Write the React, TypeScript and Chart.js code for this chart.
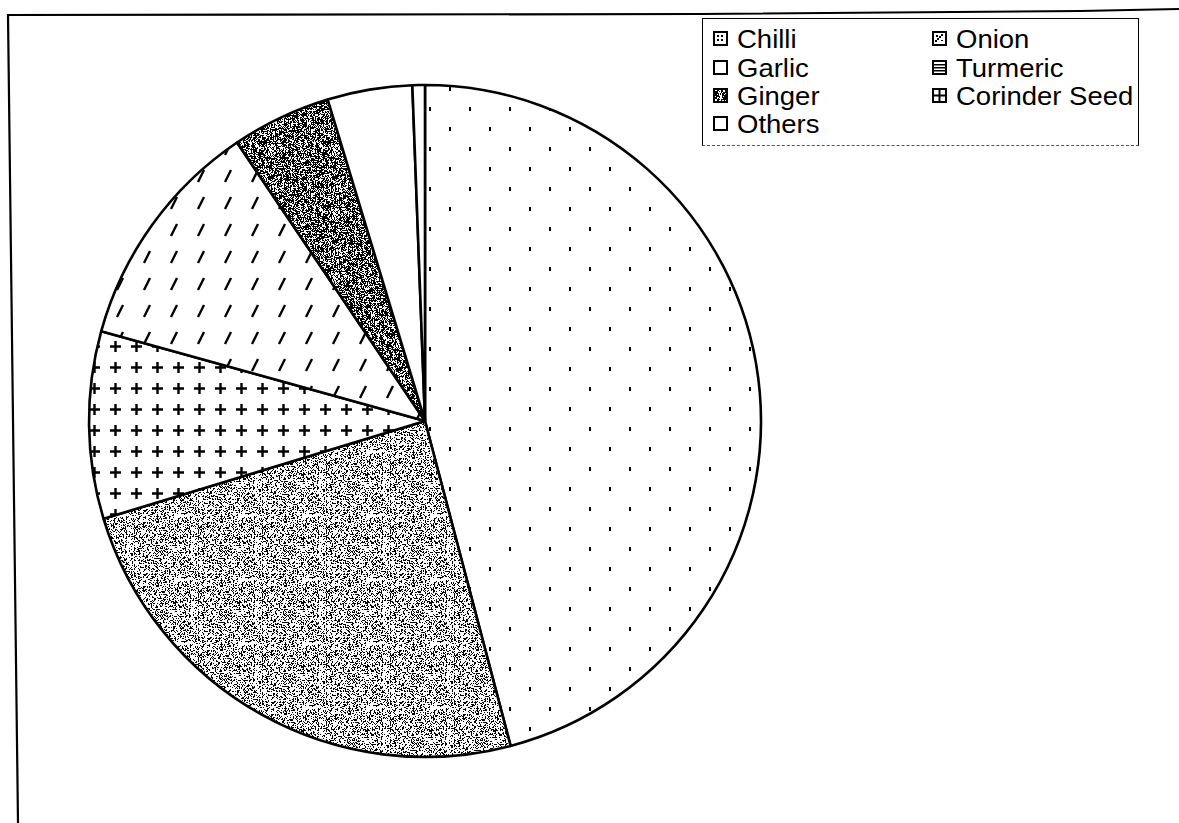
import React, { useEffect, useRef } from 'react';
import { Chart, registerables } from 'chart.js';

Chart.register(...registerables);

// Slices in drawing order (clockwise from 12 o'clock), percent shares
const categories = ['Chilli', 'Onion', 'Corinder Seed', 'Turmeric', 'Ginger', 'Garlic', 'Others'];
const shares = [45.9, 24.4, 9.0, 11.25, 4.77, 4.08, 0.6];
const slicePatterns = ['dots', 'stipple', 'plus', 'slash', 'dark', 'white', 'white'];

// Legend (two columns, row by row)
const legendLabels = ['Chilli', 'Onion', 'Garlic', 'Turmeric', 'Ginger', 'Corinder Seed', 'Others'];
const legendIcons = ['iDots', 'iDiag', 'white', 'iLines', 'iDark', 'iGrid', 'white'];

function hash(x: number, y: number, s: number): number {
  let h = (x * 374761393 + y * 668265263 + s * 1442695041) | 0;
  h = Math.imul(h ^ (h >>> 13), 1274126177);
  h = h ^ (h >>> 16);
  return (h >>> 0) / 4294967296;
}

function makeTile(kind: string): HTMLCanvasElement {
  const c = document.createElement('canvas');
  const ctx = c.getContext('2d')!;
  if (kind === 'dots') {
    c.width = 40; c.height = 40;
    ctx.fillStyle = '#fff'; ctx.fillRect(0, 0, 40, 40);
    ctx.fillStyle = '#000';
    ctx.fillRect(9, 7, 2, 4);
    ctx.fillRect(29, 27, 2, 4);
  } else if (kind === 'stipple' || kind === 'dark') {
    const n = 64;
    c.width = n; c.height = n;
    const img = ctx.createImageData(n, n);
    const dens = kind === 'stipple' ? 0.32 : 0.6;
    for (let y = 0; y < n; y++) {
      for (let x = 0; x < n; x++) {
        const streak = hash(x, 0, 7) * 0.24 - 0.12;
        const v = hash(x, y, kind === 'stipple' ? 3 : 5) < dens + streak ? 0 : 255;
        const i = (y * n + x) * 4;
        img.data[i] = v; img.data[i + 1] = v; img.data[i + 2] = v; img.data[i + 3] = 255;
      }
    }
    ctx.putImageData(img, 0, 0);
  } else if (kind === 'plus') {
    c.width = 21; c.height = 21;
    ctx.fillStyle = '#fff'; ctx.fillRect(0, 0, 21, 21);
    ctx.strokeStyle = '#000'; ctx.lineWidth = 2.4;
    ctx.beginPath();
    ctx.moveTo(5, 10.5); ctx.lineTo(16, 10.5);
    ctx.moveTo(10.5, 5); ctx.lineTo(10.5, 16);
    ctx.stroke();
  } else if (kind === 'slash') {
    c.width = 27; c.height = 27;
    ctx.fillStyle = '#fff'; ctx.fillRect(0, 0, 27, 27);
    ctx.strokeStyle = '#000'; ctx.lineWidth = 2.4;
    ctx.beginPath();
    ctx.moveTo(9, 20); ctx.lineTo(15, 8);
    ctx.stroke();
  } else {
    c.width = 4; c.height = 4;
    ctx.fillStyle = '#fff'; ctx.fillRect(0, 0, 4, 4);
  }
  return c;
}

function drawIcon(c: HTMLCanvasElement, kind: string) {
  const ctx = c.getContext('2d')!;
  const s = c.width;
  ctx.fillStyle = '#fff';
  ctx.fillRect(0, 0, s, s);
  ctx.fillStyle = '#000';
  if (kind === 'iDots') {
    ctx.fillRect(4, 4, 2, 2); ctx.fillRect(8, 4, 2, 2);
    ctx.fillRect(4, 8, 2, 2); ctx.fillRect(8, 8, 2, 2);
  } else if (kind === 'iDiag') {
    for (let i = 0; i < 4; i++) ctx.fillRect(3 + i * 2, 9 - i * 2, 2, 2);
    ctx.fillRect(4, 4, 2, 2); ctx.fillRect(9, 9, 2, 1);
  } else if (kind === 'iLines') {
    ctx.fillRect(2, 4, s - 4, 1.5); ctx.fillRect(2, 7, s - 4, 1.5); ctx.fillRect(2, 10, s - 4, 1.5);
  } else if (kind === 'iDark') {
    for (let y = 2; y < s - 2; y++) for (let x = 2; x < s - 2; x++) {
      if (hash(x, y, 11) < 0.6) ctx.fillRect(x, y, 1, 1);
    }
  } else if (kind === 'iGrid') {
    ctx.fillRect(s / 2 - 1, 2, 2, s - 4);
    ctx.fillRect(2, s / 2 - 1, s - 4, 2);
  }
  ctx.strokeStyle = '#000';
  ctx.lineWidth = 2;
  ctx.strokeRect(1, 1, s - 2, s - 2);
}

function LegendIcon({ kind }: { kind: string }) {
  const ref = useRef<HTMLCanvasElement>(null);
  useEffect(() => {
    if (ref.current) drawIcon(ref.current, kind);
  }, [kind]);
  return <canvas ref={ref} width={15} height={15} style={{ display: 'block' }} />;
}

export default function App() {
  const canvasRef = useRef<HTMLCanvasElement>(null);

  useEffect(() => {
    const canvas = canvasRef.current;
    if (!canvas) return;
    const ctx = canvas.getContext('2d')!;
    const fills = slicePatterns.map((k) => ctx.createPattern(makeTile(k), 'repeat')!);
    const chart = new Chart(canvas, {
      type: 'pie',
      data: {
        labels: categories,
        datasets: [
          {
            data: shares,
            backgroundColor: fills as any,
            borderColor: '#000',
            borderWidth: 2.6,
          },
        ],
      },
      options: {
        responsive: false,
        animation: false,
        devicePixelRatio: 1,
        events: [],
        radius: 336,
        layout: { padding: { left: 0, right: 329, top: 19, bottom: 0 } },
        plugins: { legend: { display: false }, tooltip: { enabled: false } },
      },
    });
    return () => chart.destroy();
  }, []);

  const rowCenter = [39, 68, 96, 124];
  const legendTop = 18;
  return (
    <div style={{ position: 'fixed', left: 0, top: 0, width: 1179, height: 823, background: '#fff', overflow: 'hidden' }}>
      <canvas ref={canvasRef} width={1179} height={823} style={{ position: 'absolute', left: 0, top: 0 }} />
      <svg width={1179} height={823} style={{ position: 'absolute', left: 0, top: 0, pointerEvents: 'none' }}>
        <polyline points="1179,9 1080,11 700,14 8,15 18,823" fill="none" stroke="#000" strokeWidth={2.2} />
      </svg>
      <div
        style={{
          position: 'absolute',
          left: 702,
          top: legendTop,
          width: 437,
          height: 128,
          boxSizing: 'border-box',
          borderLeft: '1.5px solid #000',
          borderRight: '1.5px solid #000',
          borderTop: '1.5px solid #000',
          borderBottom: '1px dashed #555',
          background: '#fff',
          fontFamily: '"Liberation Sans", Arial, sans-serif',
          fontSize: 25,
          color: '#000',
        }}
      >
        {legendLabels.map((lab, i) => {
          const col = i % 2;
          const row = Math.floor(i / 2);
          return (
            <div
              key={lab}
              style={{
                position: 'absolute',
                left: col === 0 ? 9.5 : 228.5,
                top: rowCenter[row] - legendTop - 1.5 - 14,
                height: 28,
                display: 'flex',
                alignItems: 'center',
                whiteSpace: 'nowrap',
                lineHeight: '28px',
              }}
            >
              <LegendIcon kind={legendIcons[i]} />
              <span style={{ marginLeft: 9, display: 'inline-block', transform: 'scaleX(1.1)', transformOrigin: 'left center' }}>{lab}</span>
            </div>
          );
        })}
      </div>
    </div>
  );
}
